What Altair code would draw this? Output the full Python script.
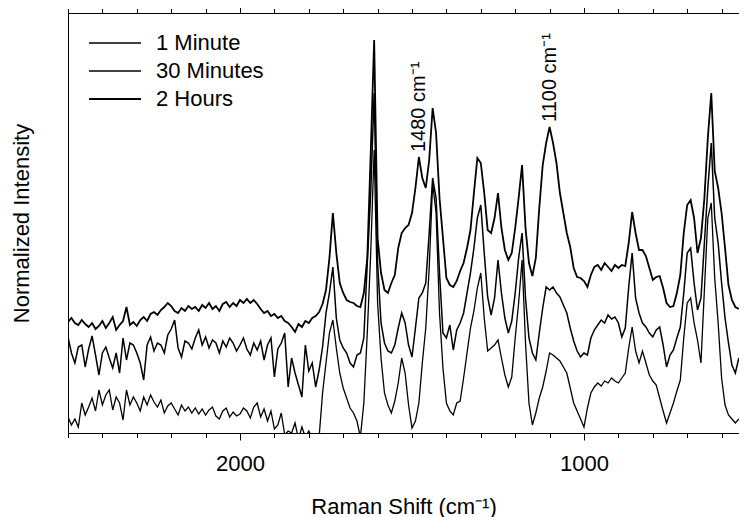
import altair as alt
import pandas as pd

# Raman shift sampling grid (cm-1), left to right on the reversed axis
WAVENUMBER = list(range(2500, 540, -10))
SERIES = ["1 Minute", "30 Minutes", "2 Hours"]

# Normalized intensity (arbitrary units, offset spectra)
I_1MIN = [
    16, 8, 14, 6, 30, 18, 26, 35, 22, 43,
    28, 38, 43, 23, 36, 30, 13, 43, 28, 36,
    30, 22, 36, 28, 38, 31, 26, 33, 20, 27,
    30, 24, 18, 28, 22, 26, 20, 25, 19, 24,
    18, 23, 26, 17, 14, 22, 25, 16, 21, 17,
    19, 25, 22, 15, 26, 30, 16, 24, 12, 22,
    4, 8, 20, -2, 2, 0, 10, -6, 6, -4,
    2, -5, -8, -4, 40, 70, 100, 113, 85, 60,
    45, 35, 25, 20, 12, -4, 30, 100, 180, 283,
    130, 75, 40, 28, 20, 32, 50, 75, 60, 28,
    5, 12, 30, 70, 105, 165, 250, 220, 120, 65,
    30, 22, 18, 30, 32, 55, 80, 105, 122, 145,
    160, 115, 82, 85, 88, 93, 75, 58, 46, 56,
    95, 130, 173, 90, 30, 8, 20, 35, 46, 62,
    80, 78, 75, 72, 66, 60, 45, 30, 22, 14,
    6, 25, 40, 46, 50, 47, 52, 50, 55, 52,
    50, 55, 60, 85, 106, 82, 70, 82, 70, 58,
    52, 48, 35, 22, 10, 20, 30, 42, 53, 95,
    130, 135, 110, 93, 70, 143, 215, 230, 155, 110,
    55, 28, 18, 14, 10, 14,
]
I_30MIN = [
    96, 80, 70, 86, 88, 66, 84, 97, 78, 58,
    80, 86, 75, 65, 80, 60, 95, 73, 90, 88,
    80, 70, 53, 88, 96, 82, 90, 88, 80, 98,
    104, 113, 85, 76, 92, 90, 84, 95, 103, 88,
    96, 85, 93, 90, 80, 92, 86, 95, 90, 82,
    88, 95, 84, 78, 90, 83, 92, 73, 88, 95,
    56, 84, 90, 100, 46, 75, 60, 48, 36, 88,
    62, 70, 46, 63, 86, 120, 140, 166, 115, 93,
    85, 80, 70, 66, 78, 80, 95, 170, 240, 340,
    170, 110, 90, 82, 80, 88, 105, 120, 110, 88,
    76, 105, 135, 140, 150, 200, 255, 235, 160, 100,
    95, 108, 83, 103, 110, 120, 140, 160, 185, 215,
    228, 180, 136, 118, 135, 173, 140, 115, 100, 112,
    140, 175, 200, 135, 95, 80, 73, 100, 125, 146,
    143, 146, 140, 136, 128, 120, 105, 92, 82, 76,
    80, 78, 95, 103, 108, 113, 110, 118, 114, 116,
    110, 96, 105, 146, 180, 135, 120, 110, 106, 100,
    96, 103, 106, 88, 66, 78, 83, 95, 106, 140,
    180, 185, 150, 123, 135, 190, 245, 290, 215, 190,
    150, 115, 90, 68, 60, 75,
]
I_2H = [
    111, 115, 110, 108, 113, 109, 106, 110, 104, 107,
    112, 105, 110, 116, 103, 108, 112, 126, 108, 111,
    107, 113, 116, 112, 119, 121, 118, 123, 126, 130,
    127, 122, 120, 125, 122, 127, 124, 126, 122, 128,
    125, 130, 124, 127, 122, 129, 131, 126, 130, 127,
    133, 130, 134, 130, 133, 129, 124, 120, 122, 117,
    119, 115, 117, 112, 110, 106, 101, 109, 106, 112,
    110, 115, 117, 121, 129, 143, 175, 220, 180, 150,
    140, 133, 131, 130, 127, 126, 140, 175, 280, 393,
    195, 160, 143, 140, 150, 158, 185, 200, 205, 208,
    220, 245, 276, 255, 245, 273, 325, 300, 235, 195,
    155, 148, 146, 152, 162, 170, 185, 203, 240, 275,
    270, 240, 203, 200, 215, 240, 205, 183, 173, 180,
    205, 235, 268, 205, 170, 157, 175, 225, 268, 290,
    306, 290, 270, 240, 220, 200, 186, 165, 156, 155,
    152, 146, 158, 166, 168, 163, 170, 166, 162, 168,
    165, 168, 167, 190, 221, 200, 183, 183, 177, 165,
    153, 156, 157, 145, 130, 126, 127, 140, 158, 200,
    228, 233, 215, 180, 195, 235, 295, 340, 262, 245,
    220, 185, 148, 133, 126, 124,
]

TICK_VALUES = [2500, 2400, 2300, 2200, 2100, 2000, 1900, 1800, 1700, 1600,
               1500, 1400, 1300, 1200, 1100, 1000, 900, 800, 700, 600]
PEAK_POSITIONS = [1480, 1100]
PEAK_LABELS = ["1480 cm\u207b\u00b9", "1100 cm\u207b\u00b9"]

FONT = "Liberation Sans"

rows = []
for name, vals in zip(SERIES, [I_1MIN, I_30MIN, I_2H]):
    for w, v in zip(WAVENUMBER, vals):
        rows.append({"wn": w, "intensity": v, "series": name})
df = pd.DataFrame(rows)

ann = pd.DataFrame({
    "wn": PEAK_POSITIONS,
    "intensity": [I_2H[WAVENUMBER.index(p)] for p in PEAK_POSITIONS],
    "label": PEAK_LABELS,
})

x_scale = alt.Scale(domain=[549.4, 2500], reverse=True, nice=False, zero=False)
y_scale = alt.Scale(domain=[0, 420], nice=False, zero=False)
tick_len = {"condition": {"test": "datum.value % 1000 === 0", "value": 7}, "value": 4.5}

lines = alt.Chart(df).mark_line(clip=True).encode(
    x=alt.X("wn:Q", scale=x_scale,
            axis=alt.Axis(orient="bottom", values=TICK_VALUES, format="d",
                          labelExpr="datum.value % 1000 === 0 ? format(datum.value, 'd') : ''",
                          tickSize=tick_len, labelPadding=13, labelFontSize=22,
                          title="Raman Shift (cm\u207b\u00b9)", titleFontSize=22,
                          titlePadding=22, grid=False)),
    y=alt.Y("intensity:Q", scale=y_scale,
            axis=alt.Axis(title="Normalized Intensity", ticks=False, labels=False,
                          grid=False, titleFontSize=22, titlePadding=35)),
    color=alt.Color("series:N", scale=alt.Scale(domain=SERIES, range=["black", "black", "black"]),
                    legend=alt.Legend(title=None, orient="none", legendX=20, legendY=16,
                                      symbolType="stroke", symbolSize=2704,
                                      symbolStrokeWidth=1.3, clipHeight=28, rowPadding=0,
                                      labelOffset=14, labelFont=FONT, labelFontSize=22,
                                      labelColor="black", padding=0)),
    strokeWidth=alt.StrokeWidth("series:N",
                                scale=alt.Scale(type="ordinal", domain=SERIES, range=[1.3, 1.5, 1.8]),
                                legend=None),
)

labels = alt.Chart(ann).mark_text(angle=270, align="left", baseline="middle", dx=5,
                                  font=FONT, fontSize=20, color="black").encode(
    x=alt.X("wn:Q", scale=x_scale,
            axis=alt.Axis(orient="top", values=TICK_VALUES, labels=False, tickSize=tick_len,
                          title=None, grid=False)),
    y=alt.Y("intensity:Q", scale=y_scale),
    text="label:N",
)

chart = alt.layer(lines, labels).resolve_axis(x="independent").properties(
    width=671, height=420,
    autosize=alt.AutoSizeParams(type="none"),
    padding={"left": 60, "top": 5, "right": 0, "bottom": 84},
).configure_view(strokeWidth=0).configure_axis(
    labelFont=FONT, titleFont=FONT, titleFontWeight="normal",
    domainColor="black", tickColor="black", labelColor="black", titleColor="black",
    domainWidth=1, tickWidth=1,
)

chart.save("out.html", embed_options={"renderer": "svg", "actions": False})
